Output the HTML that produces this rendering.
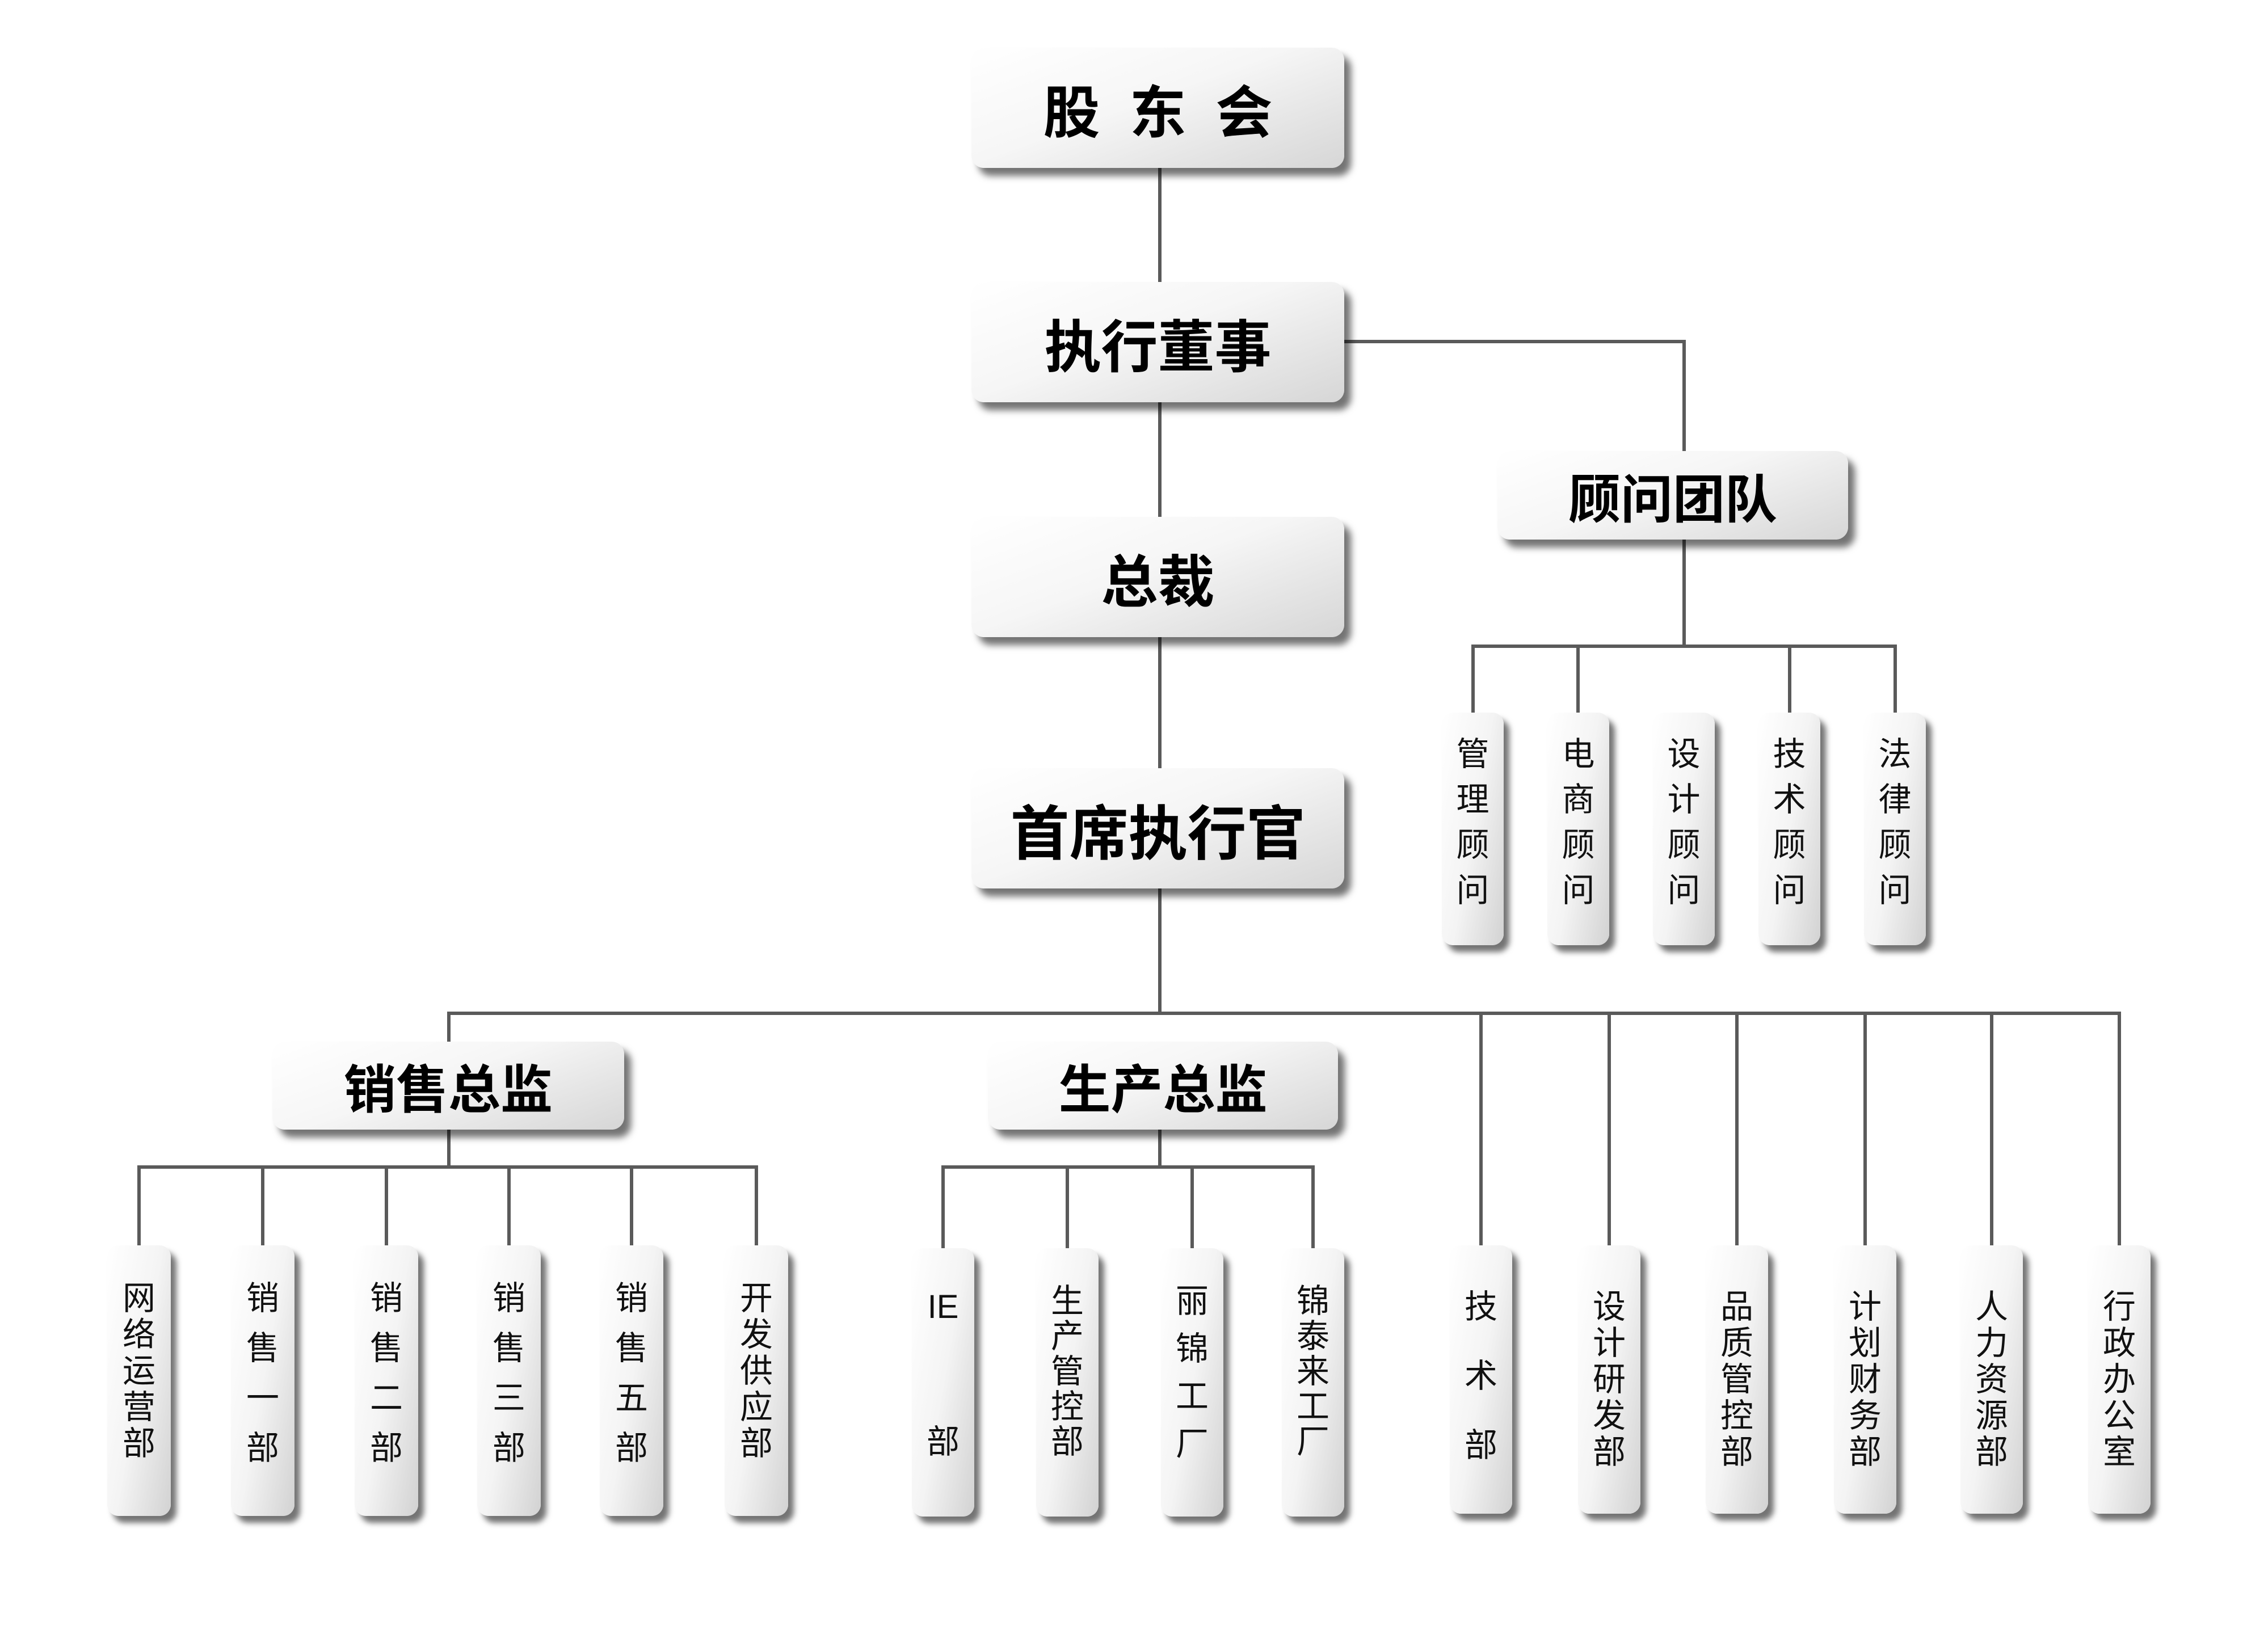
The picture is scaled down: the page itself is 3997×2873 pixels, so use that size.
<!DOCTYPE html>
<html><head><meta charset="utf-8"><style>
body{margin:0;width:3997px;height:2873px;background:#fff;position:relative;overflow:hidden;font-family:"Liberation Sans","Noto Sans CJK SC",sans-serif;}
.b{position:absolute;border-radius:22px;background:linear-gradient(160deg,#fff 0%,#f6f6f6 45%,#d6d6d6 100%);box-shadow:12px 14px 12px rgba(0,0,0,0.55);display:flex;align-items:center;justify-content:center;font-weight:bold;color:#000;}
.v{position:absolute;border-radius:20px;background:linear-gradient(100deg,#fff 0%,#f4f4f4 50%,#d2d2d2 100%);box-shadow:10px 12px 10px rgba(0,0,0,0.55);display:flex;flex-direction:column;align-items:center;font-size:58px;color:#111;line-height:1;box-sizing:border-box;}
.l{position:absolute;background:#5a5a5a;}
</style></head><body>
<!-- lines -->
<div class="l" style="left:2041px;top:290px;width:6px;height:1496px"></div>
<div class="l" style="left:2360px;top:599px;width:611px;height:6px"></div>
<div class="l" style="left:2965px;top:599px;width:6px;height:200px"></div>
<div class="l" style="left:2965px;top:945px;width:6px;height:194px"></div>
<div class="l" style="left:2593px;top:1136px;width:750px;height:6px"></div>
<div class="l" style="left:2593px;top:1136px;width:6px;height:125px"></div>
<div class="l" style="left:2778px;top:1136px;width:6px;height:125px"></div>
<div class="l" style="left:3151px;top:1136px;width:6px;height:125px"></div>
<div class="l" style="left:3337px;top:1136px;width:6px;height:125px"></div>
<div class="l" style="left:788px;top:1783px;width:2950px;height:6px"></div>
<div class="l" style="left:788px;top:1783px;width:6px;height:60px"></div>
<div class="l" style="left:788px;top:1985px;width:6px;height:72px"></div>
<div class="l" style="left:242px;top:2054px;width:1094px;height:6px"></div>
<div class="l" style="left:242px;top:2054px;width:6px;height:145px"></div>
<div class="l" style="left:460px;top:2054px;width:6px;height:145px"></div>
<div class="l" style="left:678px;top:2054px;width:6px;height:145px"></div>
<div class="l" style="left:894px;top:2054px;width:6px;height:145px"></div>
<div class="l" style="left:1110px;top:2054px;width:6px;height:145px"></div>
<div class="l" style="left:1330px;top:2054px;width:6px;height:145px"></div>
<div class="l" style="left:2041px;top:1985px;width:6px;height:72px"></div>
<div class="l" style="left:1659px;top:2054px;width:658px;height:6px"></div>
<div class="l" style="left:1659px;top:2054px;width:6px;height:150px"></div>
<div class="l" style="left:1878px;top:2054px;width:6px;height:150px"></div>
<div class="l" style="left:2098px;top:2054px;width:6px;height:150px"></div>
<div class="l" style="left:2311px;top:2054px;width:6px;height:150px"></div>
<div class="l" style="left:2607px;top:1783px;width:6px;height:415px"></div>
<div class="l" style="left:2833px;top:1783px;width:6px;height:415px"></div>
<div class="l" style="left:3058px;top:1783px;width:6px;height:415px"></div>
<div class="l" style="left:3284px;top:1783px;width:6px;height:415px"></div>
<div class="l" style="left:3507px;top:1783px;width:6px;height:415px"></div>
<div class="l" style="left:3732px;top:1783px;width:6px;height:415px"></div>
<!-- main boxes -->
<div class="b" style="left:1712px;top:84px;width:657px;height:212px;font-size:100px;letter-spacing:52px;padding-left:52px;box-sizing:border-box">股东会</div>
<div class="b" style="left:1712px;top:497px;width:657px;height:212px;font-size:100px">执行董事</div>
<div class="b" style="left:1712px;top:911px;width:657px;height:212px;font-size:100px">总裁</div>
<div class="b" style="left:1712px;top:1354px;width:657px;height:212px;font-size:104px">首席执行官</div>
<div class="b" style="left:2639px;top:795px;width:618px;height:156px;font-size:92px">顾问团队</div>
<div class="b" style="left:480px;top:1836px;width:620px;height:155px;font-size:92px">销售总监</div>
<div class="b" style="left:1741px;top:1836px;width:617px;height:155px;font-size:92px">生产总监</div>
<!-- advisors -->
<div class="v" style="left:2541px;top:1256px;width:109px;height:410px;padding-top:45px;gap:22px"><span>管</span><span>理</span><span>顾</span><span>问</span></div>
<div class="v" style="left:2727px;top:1256px;width:109px;height:410px;padding-top:45px;gap:22px"><span>电</span><span>商</span><span>顾</span><span>问</span></div>
<div class="v" style="left:2913px;top:1256px;width:109px;height:410px;padding-top:45px;gap:22px"><span>设</span><span>计</span><span>顾</span><span>问</span></div>
<div class="v" style="left:3099px;top:1256px;width:109px;height:410px;padding-top:45px;gap:22px"><span>技</span><span>术</span><span>顾</span><span>问</span></div>
<div class="v" style="left:3285px;top:1256px;width:109px;height:410px;padding-top:45px;gap:22px"><span>法</span><span>律</span><span>顾</span><span>问</span></div>
<!-- sales -->
<div class="v" style="left:189px;top:2195px;width:112px;height:477px;padding-top:65px;gap:6px"><span>网</span><span>络</span><span>运</span><span>营</span><span>部</span></div>
<div class="v" style="left:407px;top:2195px;width:112px;height:477px;padding-top:65px;gap:30px"><span>销</span><span>售</span><span>一</span><span>部</span></div>
<div class="v" style="left:625px;top:2195px;width:112px;height:477px;padding-top:65px;gap:30px"><span>销</span><span>售</span><span>二</span><span>部</span></div>
<div class="v" style="left:841px;top:2195px;width:112px;height:477px;padding-top:65px;gap:30px"><span>销</span><span>售</span><span>三</span><span>部</span></div>
<div class="v" style="left:1057px;top:2195px;width:112px;height:477px;padding-top:65px;gap:30px"><span>销</span><span>售</span><span>五</span><span>部</span></div>
<div class="v" style="left:1277px;top:2195px;width:112px;height:477px;padding-top:65px;gap:6px"><span>开</span><span>发</span><span>供</span><span>应</span><span>部</span></div>
<!-- production -->
<div class="v" style="left:1607px;top:2200px;width:110px;height:473px;padding-top:75px;gap:180px"><span style="font-family:'Liberation Sans',sans-serif">IE</span><span>部</span></div>
<div class="v" style="left:1826px;top:2200px;width:110px;height:473px;padding-top:65px;gap:4px"><span>生</span><span>产</span><span>管</span><span>控</span><span>部</span></div>
<div class="v" style="left:2046px;top:2200px;width:110px;height:473px;padding-top:65px;gap:26px"><span>丽</span><span>锦</span><span>工</span><span>厂</span></div>
<div class="v" style="left:2259px;top:2200px;width:110px;height:473px;padding-top:65px;gap:4px"><span>锦</span><span>泰</span><span>来</span><span>工</span><span>厂</span></div>
<!-- right -->
<div class="v" style="left:2555px;top:2195px;width:110px;height:473px;padding-top:80px;gap:64px"><span>技</span><span>术</span><span>部</span></div>
<div class="v" style="left:2781px;top:2195px;width:110px;height:473px;padding-top:80px;gap:6px"><span>设</span><span>计</span><span>研</span><span>发</span><span>部</span></div>
<div class="v" style="left:3006px;top:2195px;width:110px;height:473px;padding-top:80px;gap:6px"><span>品</span><span>质</span><span>管</span><span>控</span><span>部</span></div>
<div class="v" style="left:3232px;top:2195px;width:110px;height:473px;padding-top:80px;gap:6px"><span>计</span><span>划</span><span>财</span><span>务</span><span>部</span></div>
<div class="v" style="left:3455px;top:2195px;width:110px;height:473px;padding-top:80px;gap:6px"><span>人</span><span>力</span><span>资</span><span>源</span><span>部</span></div>
<div class="v" style="left:3680px;top:2195px;width:110px;height:473px;padding-top:80px;gap:6px"><span>行</span><span>政</span><span>办</span><span>公</span><span>室</span></div>
</body></html>
